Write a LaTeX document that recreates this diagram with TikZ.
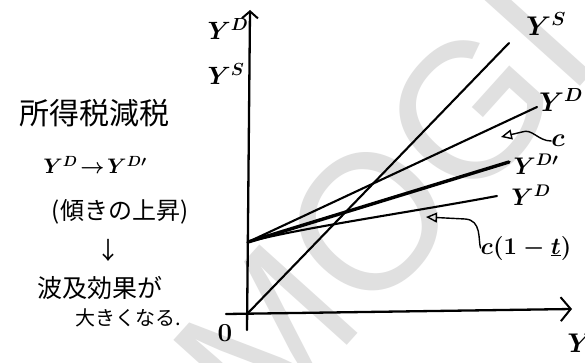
\RequirePackage{fix-cm}
\documentclass[tikz,border=0pt]{standalone}
\usepackage{fontspec}
\newfontfamily\jp{Noto Sans CJK JP}
\newfontfamily\wmfont{Liberation Sans}
\usetikzlibrary{arrows.meta}
\begin{document}
\begin{tikzpicture}[x=1pt,y=-1pt,
  axis/.style={line width=2.3pt, line cap=round},
  curve/.style={line width=2.1pt, line cap=round},
  thick curve/.style={line width=3.4pt, line cap=round},
  pointer/.style={line width=1.4pt, line cap=round, -{Triangle[open, length=11pt, width=10pt, line width=1.4pt]}},
  lab/.style={inner sep=0pt, font=\fontsize{#1}{#1}\selectfont\boldmath},
  lab/.default=27,
  jt/.style={inner sep=0pt, font=\jp\fontsize{#1}{#1}\selectfont},
  jt/.default=26
]
\useasboundingbox (0,0) rectangle (585,363);
\fill[white] (0,0) rectangle (585,363);
% watermark
\node[rotate=48, text=black!12, inner sep=0pt,
      font=\wmfont\fontsize{192}{192}\selectfont] (wm) at (384,206) {MOGI};

% axes
\coordinate (ybot) at (247,330);
\coordinate (ytop) at (250,10);
\coordinate (xl) at (226,314);
\coordinate (xr) at (572,309);
\draw[axis, -{Straight Barb[length=7pt,width=16pt,line width=2pt]}] (ybot) -- (ytop);
\draw[axis, -{Straight Barb[length=10pt,width=24pt,line width=2pt]}] (xl) -- (xr);

% lines
\coordinate (O) at (248,313);
\coordinate (A) at (248,242);
\coordinate (ysEnd) at (509,43);
\coordinate (ydTopEnd) at (537,107);
\coordinate (ydPEnd) at (509,162);
\coordinate (ydLowEnd) at (497,196);
\draw[curve] (O) -- (ysEnd);
\draw[curve] (A) -- (ydTopEnd);
\draw[thick curve] (A) -- (ydPEnd);
\draw[curve] (A) .. controls (300,228) and (400,214) .. (ydLowEnd);

% axis labels
\node[lab=25] (lYD) at (228,29) {$Y^{D}$};
\node[lab=25] (lYS) at (226,74) {$Y^{S}$};
\node[lab=26] (l0) at (225,333) {$0$};
\node[lab] (lY) at (580,343) {$Y$};

% line labels
\node[lab] (lYSr) at (546,24) {$Y^{S}$};
\node[lab] (lYDtop) at (561,100) {$Y^{D}$};
\node[lab=24] (lYDp) at (536,164) {$Y^{D\prime}$};
\node[lab=24] (lYDlow) at (531,195) {$Y^{D}$};
\node[lab=26] (lc) at (558,141) {$c$};
\node[lab=24] (lct) at (526,248) {$c(1-\underline{t})$};

% pointers
\coordinate (cTip) at (501,137);
\coordinate (ctTip) at (426,217);
\draw[pointer] (lc.west) .. controls (538,141) and (532,128) .. (522,132) -- (cTip);
\draw[pointer] (lct.west) .. controls (478,240) and (482,220) .. (465,219) -- (ctTip);

% left text
\node[jt=30] (t1) at (94,113) {所得税減税};
\node[lab=21] (t2) at (95,165) {$Y^{D}\!\rightarrow\! Y^{D\prime}$};
\node[jt=24] (t3) at (120,212) {(傾きの上昇)};
\node[jt=24] (t4) at (108,250) {↓};
\node[jt=25] (t5) at (100,288) {波及効果が};
\node[jt=20] (t6) at (128,318) {大きくなる.};
\end{tikzpicture}
\end{document}
